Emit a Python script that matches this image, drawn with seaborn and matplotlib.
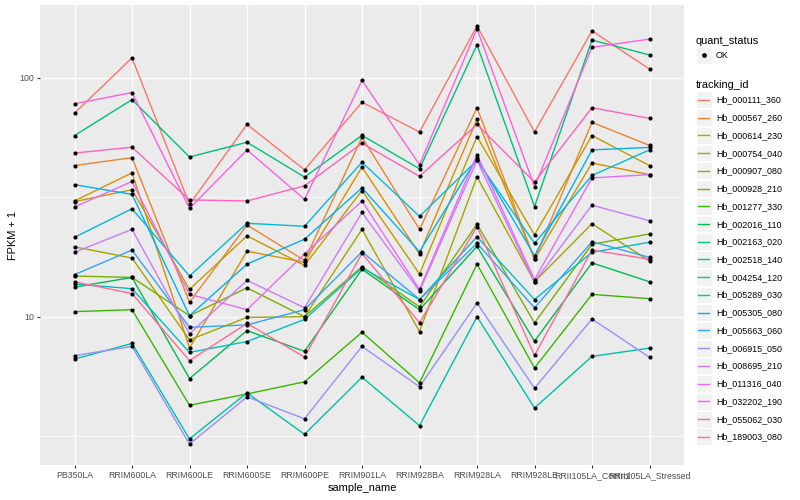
import numpy as np
import pandas as pd
import matplotlib
matplotlib.use("Agg")
import matplotlib.pyplot as plt
import seaborn as sns
from matplotlib.lines import Line2D
from matplotlib.patches import Rectangle
from matplotlib.legend_handler import HandlerBase
from matplotlib import ticker

# ---------------- data (FPKM + 1) ----------------
samples = ["PB350LA", "RRIM600LA", "RRIM600LE", "RRIM600SE", "RRIM600PE",
           "RRIM901LA", "RRIM928BA", "RRIM928LA", "RRIM928LE",
           "RRII105LA_Control", "RRII105LA_Stressed"]

tracking_ids = ["Hb_000111_360", "Hb_000567_260", "Hb_000614_230", "Hb_000754_040",
                "Hb_000907_080", "Hb_000928_210", "Hb_001277_330", "Hb_002016_110",
                "Hb_002163_020", "Hb_002518_140", "Hb_004254_120", "Hb_005289_030",
                "Hb_005305_080", "Hb_005663_060", "Hb_006915_050", "Hb_008695_210",
                "Hb_011316_040", "Hb_032202_190", "Hb_055062_030", "Hb_189003_080"]

hb_000111_360 = [71.1, 121.1, 29.5, 63.8, 41.2, 79.0, 59.3, 164.8, 59.3, 157.1, 108.7]
hb_000567_260 = [42.9, 46.3, 11.5, 24.2, 17.2, 56.4, 23.2, 74.9, 17.4, 65.1, 52.1]
hb_000614_230 = [30.5, 40.0, 7.39, 18.8, 16.9, 42.3, 18.3, 67.1, 17.4, 44.0, 39.3]
hb_000754_040 = [30.3, 34.0, 13.0, 21.8, 16.4, 33.7, 15.1, 56.7, 22.0, 57.3, 42.9]
hb_000907_080 = [19.6, 17.6, 8.00, 9.93, 10.0, 23.2, 8.67, 38.5, 14.0, 24.5, 17.1]
hb_000928_210 = [14.8, 14.6, 10.1, 13.2, 10.0, 16.2, 11.0, 24.4, 9.42, 20.1, 22.2]
hb_001277_330 = [10.5, 10.7, 4.26, 4.75, 5.34, 8.61, 5.29, 16.6, 6.10, 12.4, 11.9]
hb_002016_110 = [13.3, 14.6, 5.51, 8.75, 7.16, 15.8, 10.7, 19.7, 7.90, 16.8, 14.0]
hb_002163_020 = [57.3, 81.0, 46.6, 53.7, 38.4, 57.4, 41.6, 137.4, 28.9, 143.8, 124.6]
hb_002518_140 = [6.65, 7.73, 3.08, 4.80, 3.22, 5.58, 3.50, 10.0, 4.15, 6.82, 7.39]
hb_004254_120 = [13.7, 13.1, 7.09, 7.87, 9.74, 16.0, 11.8, 21.6, 11.8, 18.6, 20.5]
hb_005289_030 = [21.5, 28.3, 14.8, 24.6, 23.9, 44.3, 26.3, 45.1, 20.3, 39.0, 49.9]
hb_005305_080 = [35.7, 32.5, 10.1, 16.6, 21.1, 34.6, 18.7, 46.1, 18.0, 49.9, 51.1]
hb_005663_060 = [15.0, 19.0, 9.03, 9.24, 10.7, 18.7, 11.8, 20.3, 10.9, 20.6, 17.7]
hb_006915_050 = [6.87, 7.51, 2.93, 4.62, 3.74, 7.51, 5.09, 11.4, 5.02, 9.78, 6.76]
hb_008695_210 = [18.6, 23.2, 8.48, 14.2, 10.9, 27.3, 12.8, 45.1, 14.0, 29.3, 25.2]
hb_011316_040 = [28.8, 36.8, 12.4, 10.7, 18.3, 30.5, 13.0, 47.6, 14.3, 38.1, 39.3]
hb_032202_190 = [77.8, 86.7, 28.4, 49.9, 31.0, 97.5, 43.3, 160.2, 35.0, 134.1, 145.1]
hb_055062_030 = [48.4, 51.2, 30.8, 30.5, 35.3, 53.2, 38.7, 63.8, 36.6, 74.9, 67.6]
hb_189003_080 = [14.0, 12.5, 6.55, 9.38, 6.78, 18.4, 9.44, 23.8, 6.89, 19.0, 17.4]

series_values = [hb_000111_360, hb_000567_260, hb_000614_230, hb_000754_040,
                 hb_000907_080, hb_000928_210, hb_001277_330, hb_002016_110,
                 hb_002163_020, hb_002518_140, hb_004254_120, hb_005289_030,
                 hb_005305_080, hb_005663_060, hb_006915_050, hb_008695_210,
                 hb_011316_040, hb_032202_190, hb_055062_030, hb_189003_080]

quant_status = "OK"

rows = []
for tid, vals in zip(tracking_ids, series_values):
    for s, v in zip(samples, vals):
        rows.append({"sample_name": s, "tracking_id": tid, "fpkm1": v,
                     "quant_status": quant_status})
df = pd.DataFrame(rows)


# ---------------- ggplot2 hue palette ----------------
def hcl_to_hex(h, c=100.0, l=65.0):
    hr = np.deg2rad(h)
    u, v = c * np.cos(hr), c * np.sin(hr)
    Xn, Yn, Zn = 95.047, 100.0, 108.883
    Y = Yn * ((l + 16) / 116) ** 3 if l > 8 else Yn * l / 903.3
    den = Xn + 15 * Yn + 3 * Zn
    un, vn = 4 * Xn / den, 9 * Yn / den
    up, vp = u / (13 * l) + un, v / (13 * l) + vn
    X = Y * 9 * up / (4 * vp)
    Z = Y * (12 - 3 * up - 20 * vp) / (4 * vp)
    X, Y, Z = X / 100, Y / 100, Z / 100
    r = 3.2404542 * X - 1.5371385 * Y - 0.4985314 * Z
    g = -0.9692660 * X + 1.8760108 * Y + 0.0415560 * Z
    b = 0.0556434 * X - 0.2040259 * Y + 1.0572252 * Z
    out = []
    for ch in (r, g, b):
        ch = 12.92 * ch if ch <= 0.0031308 else 1.055 * ch ** (1 / 2.4) - 0.055
        out.append(min(max(ch, 0), 1))
    return matplotlib.colors.to_hex(out)


n = len(tracking_ids)
hues = np.linspace(15, 375, n + 1)[:-1]
colors = [hcl_to_hex(h) for h in hues]
palette = dict(zip(tracking_ids, colors))

# ---------------- plotting ----------------
plt.rcParams["font.family"] = ["Liberation Sans", "DejaVu Sans"]

fig, ax = plt.subplots(figsize=(8, 5), dpi=100)
fig.subplots_adjust(left=0.05, right=0.855, top=0.99, bottom=0.07)
ax.set_facecolor("#EBEBEB")

sns.lineplot(data=df, x="sample_name", y="fpkm1", hue="tracking_id",
             hue_order=tracking_ids, palette=palette, units="tracking_id",
             estimator=None, sort=False, legend=False, linewidth=1.0, ax=ax,
             zorder=2)
sns.scatterplot(data=df, x="sample_name", y="fpkm1", color="black", s=9,
                linewidth=0, legend=False, ax=ax, zorder=3)

ax.set_yscale("log")
lo, hi = np.log10(df["fpkm1"].min()), np.log10(df["fpkm1"].max())
pad = 0.05 * (hi - lo)
ax.set_ylim(10 ** (lo - pad), 10 ** (hi + pad))
ax.set_xlim(-0.6, len(samples) - 0.4)

ax.yaxis.set_major_locator(ticker.FixedLocator([10, 100]))
ax.yaxis.set_major_formatter(ticker.FuncFormatter(lambda v, p: f"{v:g}"))
ax.yaxis.set_minor_locator(ticker.FixedLocator([10 ** 0.5, 10 ** 1.5]))
ax.yaxis.set_minor_formatter(ticker.NullFormatter())

ax.grid(which="major", color="white", linewidth=1.0)
ax.grid(which="minor", axis="y", color="white", linewidth=0.5)
ax.set_axisbelow(True)
for sp in ax.spines.values():
    sp.set_visible(False)

ax.tick_params(axis="both", which="major", length=2.5, width=0.8,
               color="#333333", labelcolor="#4D4D4D", labelsize=6.3, pad=2)
ax.tick_params(axis="y", which="minor", length=0)

ax.set_xlabel("sample_name", fontsize=7.9, labelpad=2, color="black")
ax.set_ylabel("FPKM + 1", fontsize=7.9, labelpad=1, color="black")


# ---------------- legends ----------------
class KeyHandler(HandlerBase):
    def __init__(self, kind):
        super().__init__()
        self.kind = kind

    def create_artists(self, legend, orig_handle, xdescent, ydescent, width,
                       height, fontsize, trans):
        x0, y0 = -xdescent, -ydescent
        rect = Rectangle((x0, y0), width, height, facecolor="#F2F2F2",
                         edgecolor="white", linewidth=0.8, transform=trans)
        cy = y0 + height / 2
        if self.kind == "line":
            art = Line2D([x0 + 0.15 * width, x0 + 0.85 * width], [cy, cy],
                         color=orig_handle.get_color(), linewidth=1.0,
                         transform=trans)
        else:
            art = Line2D([x0 + width / 2], [cy], marker="o", color="black",
                         markersize=2.4, linestyle="none", transform=trans)
        return [rect, art]


common = dict(loc="upper left", bbox_transform=fig.transFigure, frameon=False,
              fontsize=6.4, title_fontsize=7.9, alignment="left",
              borderpad=0, borderaxespad=0, handlelength=1.75,
              handleheight=2.54, handletextpad=0.5, labelspacing=0.1)

pt_handle = Line2D([], [], color="black")
leg1 = ax.legend([pt_handle], [quant_status], title="quant_status",
                 handler_map={Line2D: KeyHandler("point")},
                 bbox_to_anchor=(696 / 800, 1 - 36 / 500), **common)
ax.add_artist(leg1)

line_handles = [Line2D([], [], color=palette[t]) for t in tracking_ids]
leg2 = ax.legend(line_handles, tracking_ids, title="tracking_id",
                 handler_map={Line2D: KeyHandler("line")},
                 bbox_to_anchor=(696 / 800, 1 - 80.5 / 500), **common)

fig.savefig("out.png", dpi=100)
